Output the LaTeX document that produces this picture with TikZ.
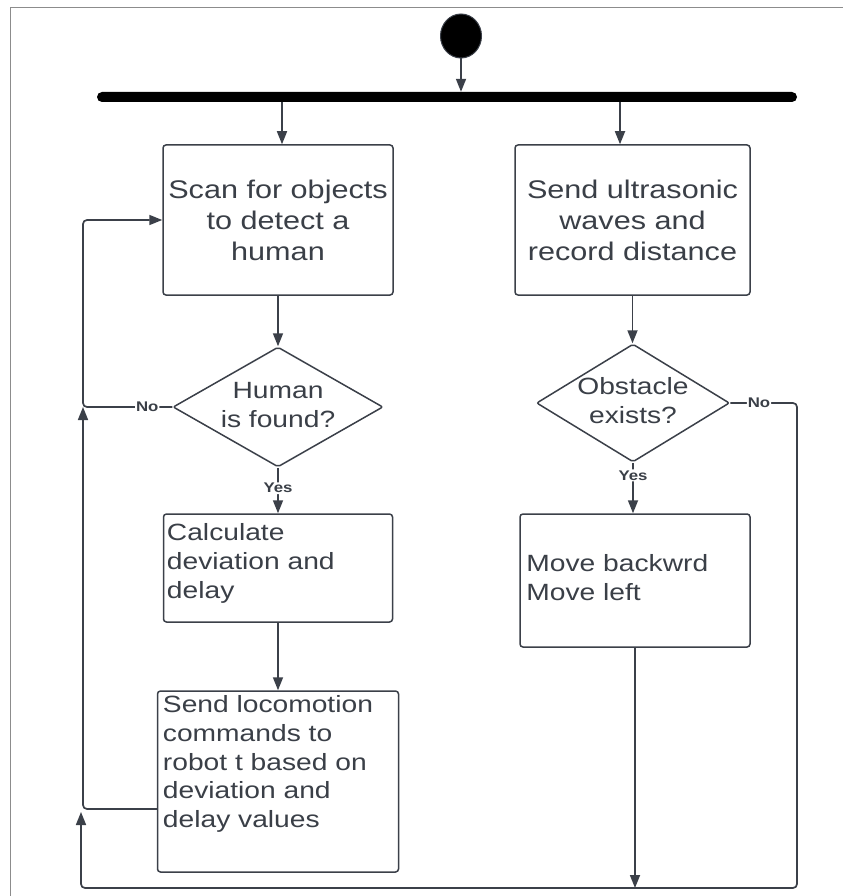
\documentclass[tikz,border=0pt]{standalone}
\usepackage{fontspec}
\setmainfont[FakeStretch=1.2]{Liberation Sans}
\usetikzlibrary{arrows.meta,shapes.geometric,calc}
\definecolor{ln}{HTML}{3B4049}
\definecolor{tx}{HTML}{3A3F47}
\definecolor{frm}{HTML}{8C8C8C}
\begin{document}
\begin{tikzpicture}[x=1pt,y=-1pt,
  flow/.style={draw=ln, line width=1.7pt, rounded corners=4pt, -{Triangle[length=13pt,width=10pt]}},
  box/.style={draw=ln, line width=1.5pt, rounded corners=3pt, fill=white, inner sep=0pt},
  dec/.style={diamond, draw=ln, line width=1.5pt, rounded corners=2pt, inner sep=0pt, fill=white},
  bigtxt/.style={text=tx, align=center, inner sep=0pt, font=\fontsize{25.5pt}{31pt}\selectfont},
  dtxt/.style={text=tx, align=center, inner sep=0pt, font=\fontsize{23.5pt}{29pt}\selectfont},
  ltxt/.style={text=tx, align=left, inner sep=0pt, anchor=north west, font=\fontsize{23.5pt}{28.8pt}\selectfont},
  lbl/.style={text=tx, fill=white, inner sep=1pt, font=\bfseries\fontsize{14pt}{16pt}\selectfont}
]
\useasboundingbox (0,0) rectangle (843,896);
\fill[white] (0,0) rectangle (843,896);
\draw[frm, line width=1pt] (10,896) -- (10,8) -- (843,8);

% start and fork
\node[ellipse, fill=black, draw=ln, line width=1pt, minimum width=41pt, minimum height=44pt, inner sep=0pt] (start) at (461,36) {};
\node[fill=black, rounded corners=5pt, minimum width=700pt, minimum height=10pt, inner sep=0pt] (bar) at (447,97) {};

% boxes
\node[box, minimum width=230pt, minimum height=150pt] (box1) at (278,220) {};
\node[box, minimum width=235pt, minimum height=150pt] (box2) at (632.5,220) {};
\node[box, minimum width=229pt, minimum height=108pt] (box3) at (278,568) {};
\node[box, minimum width=241pt, minimum height=181pt] (box4) at (278,781.5) {};
\node[box, minimum width=230pt, minimum height=133pt] (box5) at (635,580.5) {};

% decisions
\node[dec, minimum width=210pt, minimum height=120pt] (d1) at (278,407) {};
\node[dec, minimum width=193pt, minimum height=118pt] (d2) at (633,403) {};

% texts
\node[bigtxt] (t1) at (box1.center) {Scan for objects\\to detect a\\human};
\node[bigtxt] (t2) at (box2.center) {Send ultrasonic\\waves and\\record distance};
\node[dtxt] (td1) at ([yshift=2pt]d1.center) {Human\\is found?};
\node[dtxt] (td2) at ([yshift=2pt]d2.center) {Obstacle\\exists?};
\node[ltxt] (t3) at ([xshift=4pt,yshift=-10pt]box3.north west) {Calculate\\deviation and\\delay};
\node[ltxt] (t4) at ([xshift=6pt,yshift=-5pt]box4.north west) {Send locomotion\\commands to\\robot t based on\\deviation and\\delay values};
\node[ltxt] (t5) at ([xshift=7pt,yshift=-41pt]box5.north west) {Move backwrd\\Move left};

% helper coordinates
\coordinate (f1) at (282,0);
\coordinate (f2) at (620,0);
\coordinate (l1) at (83,0);
\coordinate (r4) at (0,809);
\coordinate (rr) at (797,888);
\coordinate (ll) at (81,888);
\coordinate (tipb) at (81,812);

% connectors
\draw[flow] (start.south) -- (start.south |- bar.north);
\draw[flow] (bar.south -| f1) -- (box1.north -| f1);
\draw[flow] (bar.south -| f2) -- (box2.north -| f2);
\draw[flow] (box1.south) -- (d1.north);
\draw[flow] (d1.west) -- node[lbl, pos=0.28] (no1) {No} (d1.west -| l1) -- (box1.west -| l1) -- (box1.west);
\draw[flow] (d1.south) -- node[lbl, pos=0.45] (yes1) {Yes} (box3.north);
\draw[flow] (box3.south) -- (box3.south |- box4.north);
\draw[flow] (box4.west |- r4) -- (l1 |- r4) -- (l1 |- d1.west);
\draw[flow] (box2.south) -- (box2.south |- d2.north);
\draw[flow] (d2.south) -- node[lbl, pos=0.25] (yes2) {Yes} (d2.south |- box5.north);
\draw[flow] (d2.east) -- node[lbl, pos=0.43] (no2) {No} (d2.east -| rr) -- (rr) -- (ll) -- (tipb);
\draw[flow] (box5.south) -- (box5.south |- rr);
\end{tikzpicture}
\end{document}
